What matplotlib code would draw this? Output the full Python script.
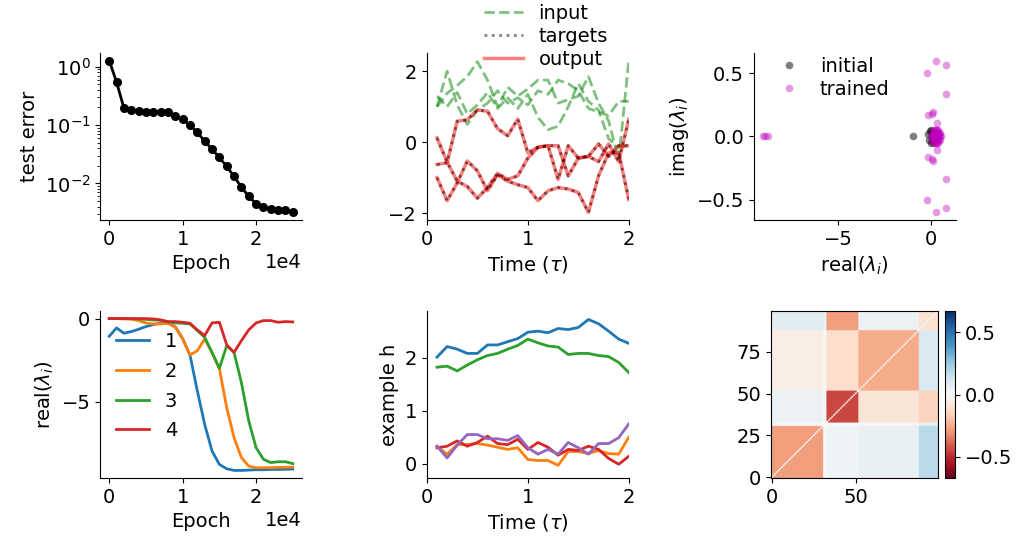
import numpy as np
import matplotlib
matplotlib.use("Agg")
import matplotlib.pyplot as plt

# ---- data ----
epochs = [0, 1000, 2000, 3000, 4000, 5000, 6000, 7000, 8000, 9000, 10000, 11000, 12000,
          13000, 14000, 15000, 16000, 17000, 18000, 19000, 20000, 21000, 22000, 23000,
          24000, 25000]
test_error = [1.27, 0.54, 0.196, 0.182, 0.175, 0.170, 0.168, 0.166, 0.168, 0.143, 0.126,
              0.099, 0.0745, 0.053, 0.0386, 0.0278, 0.0195, 0.0132, 0.00865, 0.006,
              0.00449, 0.00394, 0.00364, 0.00347, 0.00347, 0.00319]

times = [0.1, 0.2, 0.3, 0.4, 0.5, 0.6, 0.7, 0.8, 0.9, 1.0,
         1.1, 1.2, 1.3, 1.4, 1.5, 1.6, 1.7, 1.8, 1.9, 2.0]
inputs = [
    [1.0, 1.38, 1.6, 1.85, 2.27, 1.75, 1.0, 1.55, 1.3, 1.5, 1.75, 1.75, 1.1, 1.2, 1.3, 1.85, 1.1, 0.6, -0.5, 2.3],
    [1.0, 2.0, 1.05, 0.5, 0.9, 1.1, 1.45, 1.1, 1.25, 1.05, 1.45, 1.35, 1.75, 1.65, 1.45, 0.95, 0.85, 0.75, 1.15, 1.15],
    [1.3, 1.0, 1.4, 0.8, 1.05, 1.4, 0.95, 1.25, 0.95, 1.35, 0.7, 0.35, 0.45, 1.0, 1.65, 1.15, 0.9, 0.1, -0.15, -0.1],
]
outputs = [
    [-0.63, -0.58, 0.59, 0.63, 0.91, 0.87, 0.38, 0.18, 0.65, -0.30, -0.14, -0.10, -0.10, -0.95, -0.45, -0.40, -0.55, -0.05, -0.55, 0.65],
    [0.12, -0.56, -1.10, -1.25, -1.58, -1.28, -0.88, -1.05, -0.95, -0.45, -0.15, -0.10, -1.05, -0.10, -0.45, -0.40, -0.05, -0.40, -0.10, -0.10],
    [-1.00, -1.65, -1.15, -0.53, -0.81, -1.37, -0.92, -1.10, -1.20, -1.28, -1.65, -1.37, -1.28, -1.32, -1.42, -1.98, -0.95, -0.30, -0.30, -1.62],
]
targets = outputs

init_real = [-0.96, -0.15, -0.1, -0.05, 0.0, 0.02, 0.05, 0.08, 0.1, 0.12, 0.15, 0.2, 0.25]
init_imag = [0.0, 0.02, -0.03, 0.04, -0.05, 0.05, -0.02, 0.03, 0.0, -0.04, 0.02, -0.01, 0.01]
trained_real = [-9.1, -9.0, -8.85,
                0.27, 0.82, -0.18, 0.86, 0.15, 0.1, -0.15, 0.33,
                0.27, 0.82, -0.18, 0.86, 0.15, 0.1, -0.15, 0.33,
                0.05, 0.1, 0.15, 0.2, 0.25, 0.3, 0.35, 0.4, 0.45, 0.5, 0.55,
                0.1, 0.15, 0.2, 0.25, 0.3, 0.35, 0.4, 0.45, 0.5,
                0.1, 0.15, 0.2, 0.25, 0.3, 0.35, 0.4, 0.45, 0.5,
                0.2, 0.25, 0.3, 0.35, 0.4, 0.2, 0.25, 0.3, 0.35, 0.4]
trained_imag = [0.0, 0.0, 0.0,
                0.6, 0.566, 0.505, 0.335, 0.19, 0.18, 0.166, 0.11,
                -0.6, -0.566, -0.505, -0.335, -0.19, -0.18, -0.166, -0.11,
                0.0, 0.0, 0.0, 0.0, 0.0, 0.0, 0.0, 0.0, 0.0, 0.0, 0.0,
                0.03, 0.03, 0.03, 0.03, 0.03, 0.03, 0.03, 0.03, 0.03,
                -0.03, -0.03, -0.03, -0.03, -0.03, -0.03, -0.03, -0.03, -0.03,
                0.05, 0.055, 0.055, 0.055, 0.05, -0.05, -0.055, -0.055, -0.055, -0.05]

eig1 = [-1.06, -0.56, -0.88, -0.78, -0.64, -0.48, -0.36, -0.28, -0.26, -0.5, -1.2, -2.19, -4.34,
        -6.35, -7.95, -8.76, -9.02, -9.12, -9.12, -9.1, -9.08, -9.08, -9.06, -9.06, -9.05, -9.04]
eig2 = [0.0, 0.0, -0.02, -0.04, -0.12, -0.26, -0.32, -0.32, -0.28, -0.52, -1.22, -2.19, -1.93,
        -1.22, -2.05, -2.99, -5.34, -7.15, -8.35, -8.86, -8.96, -8.96, -8.95, -8.94, -8.93, -8.92]
eig3 = [0.0, 0.0, 0.0, 0.0, -0.02, -0.05, -0.08, -0.1, -0.2, -0.26, -0.28, -0.32, -0.72,
        -1.12, -2.03, -2.99, -1.63, -2.03, -3.84, -6.14, -7.75, -8.45, -8.65, -8.6, -8.6, -8.71]
eig4 = [0.0, 0.0, 0.0, 0.0, 0.0, 0.0, -0.02, -0.08, -0.18, -0.18, -0.22, -0.28, -0.68,
        -1.02, -0.26, -0.22, -1.57, -2.03, -1.33, -0.68, -0.26, -0.12, -0.12, -0.22, -0.18, -0.2]
eig_labels = ["1", "2", "3", "4"]

h_blue = [2.01, 2.21, 2.16, 2.08, 2.08, 2.24, 2.24, 2.30, 2.36, 2.48,
          2.50, 2.47, 2.55, 2.53, 2.57, 2.72, 2.64, 2.50, 2.35, 2.27]
h_orange = [0.33, 0.18, 0.36, 0.36, 0.38, 0.35, 0.31, 0.27, 0.30, 0.08,
            0.06, 0.06, -0.03, 0.23, 0.23, 0.19, 0.25, 0.19, 0.18, 0.50]
h_green = [1.82, 1.84, 1.75, 1.86, 1.96, 2.04, 2.08, 2.16, 2.23, 2.35,
           2.28, 2.22, 2.20, 2.06, 2.08, 2.08, 2.04, 2.02, 1.91, 1.72]
h_red = [0.30, 0.33, 0.43, 0.33, 0.40, 0.52, 0.38, 0.36, 0.46, 0.27,
         0.40, 0.31, 0.16, 0.27, 0.25, 0.33, 0.27, 0.10, -0.01, 0.14]
h_purple = [0.33, 0.11, 0.35, 0.55, 0.55, 0.47, 0.47, 0.44, 0.53, 0.30,
            0.18, 0.27, 0.18, 0.40, 0.30, 0.18, 0.38, 0.38, 0.49, 0.75]

# similarity matrix: block structure (rows = y group, cols = x group)
group_edges = [0, 31, 33, 52, 88, 100]
block_values = [
    [-0.28, 0.00, 0.03, 0.05, 0.18],
    [0.00, 0.00, 0.00, 0.00, 0.05],
    [0.04, 0.00, -0.45, -0.08, -0.15],
    [-0.05, 0.00, -0.12, -0.25, 0.10],
    [0.07, 0.05, -0.28, 0.04, -0.10],
]
diag_value = 0.0
clim = 0.67

plt.rcParams['font.size'] = 14

fig, axes = plt.subplots(2, 3, figsize=(10.21, 5.44), dpi=100)
fig.subplots_adjust(left=0.098, right=0.936, top=0.9026, bottom=0.1213, wspace=0.619, hspace=0.545)
ax1, ax2, ax3 = axes[0]
ax4, ax5, ax6 = axes[1]

for ax in [ax1, ax2, ax3, ax4, ax5]:
    ax.spines['top'].set_visible(False)
    ax.spines['right'].set_visible(False)

# test error
ax1.semilogy(epochs, test_error, 'k-o', lw=2, ms=5.5)
ax1.set_ylabel("test error")
ax1.set_xlabel("Epoch")
ax1.ticklabel_format(axis='x', style='sci', scilimits=(0, 0))

# input / target / output
for k, ys in enumerate(inputs):
    ax2.plot(times, ys, 'g--', lw=2, alpha=0.5, label="input" if k == 0 else None)
for k, ys in enumerate(outputs):
    ax2.plot(times, ys, 'r-', lw=2.5, alpha=0.5, label="output" if k == 0 else None, zorder=2)
for k, ys in enumerate(targets):
    ax2.plot(times, ys, 'k:', lw=2, alpha=0.5, label="targets" if k == 0 else None, zorder=3)
ax2.set_xlim(0, 2)
ax2.set_xlabel(r"Time ($\tau$)")
hs, ls = ax2.get_legend_handles_labels()
order = [ls.index("input"), ls.index("targets"), ls.index("output")]
ax2.legend([hs[i] for i in order], [ls[i] for i in order], frameon=False, loc='center',
           bbox_to_anchor=(0.59, 1.1), labelspacing=0.2, borderpad=0.2)

# eigenvalues
ax3.plot(init_real, init_imag, 'o', color='k', alpha=0.5, ms=5.5, mec='none', label="initial")
ax3.plot(trained_real, trained_imag, 'o', color='m', alpha=0.4, ms=5.5, mec='none', label="trained")
ax3.set_xlabel(r"real($\lambda_i$)")
ax3.set_ylabel(r"imag($\lambda_i$)")
ax3.legend(frameon=False, loc='upper left', bbox_to_anchor=(-0.01, 1.08), labelspacing=0.2,
           handletextpad=0.6)

# eigenvalues over training
for ys, lab in zip([eig1, eig2, eig3, eig4], eig_labels):
    ax4.plot(epochs, ys, lw=2, label=lab)
ax4.set_xlabel("Epoch")
ax4.set_ylabel(r"real($\lambda_i$)")
ax4.ticklabel_format(axis='x', style='sci', scilimits=(0, 0))
ax4.legend(frameon=False, loc='center', bbox_to_anchor=(0.23, 0.55), labelspacing=0.55,
           handlelength=1.7)

# example hidden units
for ys in [h_blue, h_orange, h_green, h_red, h_purple]:
    ax5.plot(times, ys, lw=2)
ax5.set_xlim(0, 2)
ax5.set_ylim(-0.27, 2.88)
ax5.set_xlabel(r"Time ($\tau$)")
ax5.set_ylabel("example h")

# matrix
n = group_edges[-1]
mat = np.zeros((n, n))
for i in range(len(group_edges) - 1):
    for j in range(len(group_edges) - 1):
        mat[group_edges[i]:group_edges[i + 1], group_edges[j]:group_edges[j + 1]] = block_values[i][j]
np.fill_diagonal(mat, diag_value)
im = ax6.imshow(mat, cmap='RdBu', vmin=-clim, vmax=clim, origin='lower')
ax6.set_xticks([0, 50])
ax6.set_yticks([0, 25, 50, 75])
cax = fig.add_axes([945 / 1021, 66 / 544, 10 / 1021, 167 / 544])
cb = fig.colorbar(im, cax=cax)
cb.set_ticks([-0.5, 0.0, 0.5])

fig.savefig("out.png", dpi=100)
